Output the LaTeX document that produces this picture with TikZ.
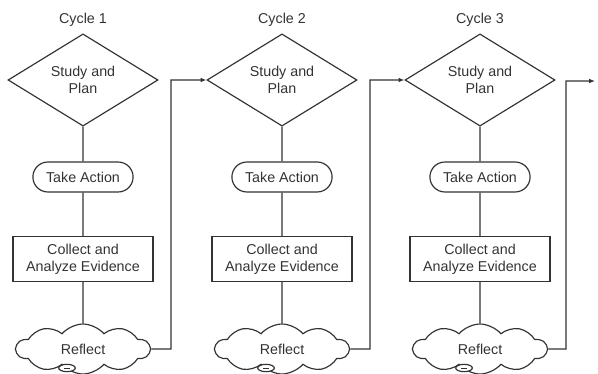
\documentclass[tikz,border=0pt]{standalone}
\usepackage{fontspec}
\setmainfont{Liberation Sans}
\usepackage{tikz}
\usetikzlibrary{shapes.geometric,shapes.misc,shapes.symbols,arrows.meta}

\begin{document}
\begin{tikzpicture}[x=0.03cm, y=-0.03cm, line width=1pt, draw=black!80, text=black!80, font=\fontsize{12.2}{14.8}\selectfont, align=center,
  studybox/.style={diamond, draw, minimum width=4.5cm, minimum height=2.16cm, inner sep=0pt},
  actbox/.style={rounded rectangle, draw, minimum width=3.24cm, minimum height=0.9cm},
  collectbox/.style={rectangle, draw, minimum width=4.2cm, minimum height=1.35cm},
  reflectbox/.style={cloud, draw, cloud puffs=10, cloud puff arc=100, aspect=2.8, minimum width=4cm, minimum height=1.5cm, inner sep=0pt}]
  \useasboundingbox (0,0) rectangle (598,374);
  \foreach \i/\x in {1/83, 2/282, 3/480} {
    \node (cycle\i) at (\x,20) {Cycle \i};
    \node[studybox] (study\i) at (\x,80) {Study and\\Plan};
    \node[actbox] (act\i) at (\x,177) {Take Action};
    \node[collectbox] (collect\i) at (\x,259) {Collect and\\Analyze Evidence};
    \node[reflectbox] (reflect\i) at (\x,349) {Reflect};
    \draw[fill=white] (\x-16,368) ellipse (0.25cm and 0.11cm);
    \draw[line width=0.6pt] (\x-19,368) -- (\x-13,368);
    \draw (study\i) -- (act\i) -- (collect\i) -- (reflect\i);
  }
  \coordinate (next) at (595,81);
  \draw[-{Latex[length=5pt,width=4pt]}] (reflect1.east) -- (171,349) |- (study2.west);
  \draw[-{Latex[length=5pt,width=4pt]}] (reflect2.east) -- (370,349) |- (study3.west);
  \draw[-{Latex[length=5pt,width=4pt]}] (reflect3.east) -- (566,349) |- (next);
\end{tikzpicture}
\end{document}
